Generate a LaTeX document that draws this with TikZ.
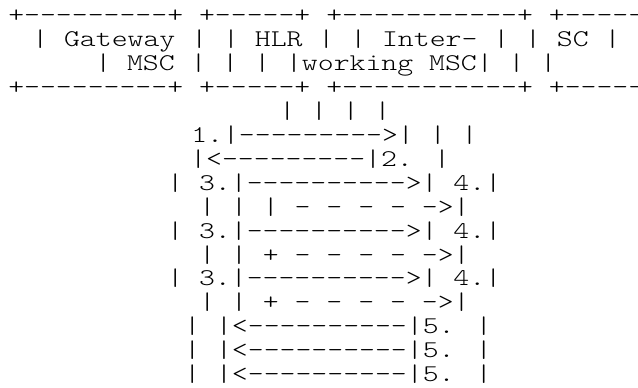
\documentclass[tikz,border=0pt]{standalone}
\usepackage{graphicx}
\tikzset{asc/.style={anchor=base west, inner sep=0pt, font=\ttfamily\fontseries{l}\fontsize{18pt}{18pt}\selectfont}}
\newcommand{\sx}[1]{\scalebox{1.2619}[1]{#1}}
\begin{document}
\begin{tikzpicture}[x=0.75pt,y=-0.75pt]
\useasboundingbox (0,0) rectangle (638,388);
\fill[white] (0,0) rectangle (638,388);
\node[asc] (l1)  at (8,23)    {\sx{+---------+ +-----+ +-----------+ +-----}};
\node[asc] (l2)  at (32,46.9) {\sx{| Gateway | | HLR | | Inter- | | SC |}};
\node[asc] (l3)  at (95,70.8) {\sx{| MSC | | | |working MSC| | |}};
\node[asc] (l4)  at (8,94.7)  {\sx{+---------+ +-----+ +-----------+ +-----}};
\node[asc] (l5)  at (279,118.6) {\sx{| | | |}};
\node[asc] (l6)  at (191,142.5) {\sx{1.|--------->| | |}};
\node[asc] (l7)  at (190,166.4) {\sx{|<---------|2. |}};
\node[asc] (l8)  at (167,190.3) {\sx{| 3.|---------->| 4.|}};
\node[asc] (l9)  at (199,214.2) {\sx{| | | - - - - ->|}};
\node[asc] (l10) at (167,238.1) {\sx{| 3.|---------->| 4.|}};
\node[asc] (l11) at (199,262)   {\sx{| | + - - - - ->|}};
\node[asc] (l12) at (167,285.9) {\sx{| 3.|---------->| 4.|}};
\node[asc] (l13) at (199,309.8) {\sx{| | + - - - - ->|}};
\node[asc] (l14) at (184,333.7) {\sx{| |<----------|5. |}};
\node[asc] (l15) at (184,357.6) {\sx{| |<----------|5. |}};
\node[asc] (l16) at (184,381.5) {\sx{| |<----------|5. |}};
\end{tikzpicture}
\end{document}
